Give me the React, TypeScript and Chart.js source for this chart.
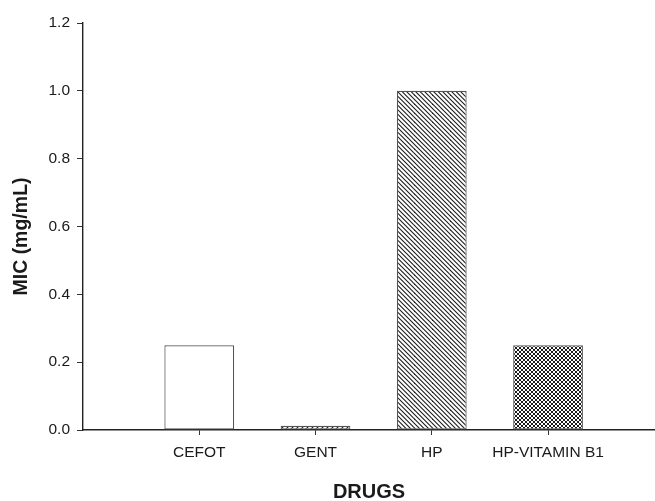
import React, { useEffect, useRef } from "react";
import { Chart, registerables } from "chart.js";

Chart.register(...registerables);

const categories = ["CEFOT", "GENT", "HP", "HP-VITAMIN B1"];
const micValues = [0.25, 0.0125, 1.0, 0.25];
const yTicks = [0, 0.2, 0.4, 0.6, 0.8, 1.0, 1.2];
const xTitle = "DRUGS";
const yTitle = "MIC (mg/mL)";

const FONT = "'Liberation Sans', Arial, sans-serif";

function makePattern(kind: string): CanvasPattern | string {
  if (kind === "white") return "#ffffff";
  const s = kind === "cross" ? 4 : kind === "slash" ? 5 : 4.5;
  const size = Math.round(s * 4);
  const c = document.createElement("canvas");
  c.width = size;
  c.height = size;
  const g = c.getContext("2d")!;
  g.fillStyle = "#ffffff";
  g.fillRect(0, 0, size, size);
  g.strokeStyle = "#1a1a1a";
  g.lineWidth = kind === "cross" ? 1.0 : 1.1;
  const step = size / 4;
  const drawBack = () => {
    for (let k = -8; k <= 12; k++) {
      g.beginPath();
      g.moveTo(k * step - size, -size);
      g.lineTo(k * step + 2 * size, 2 * size);
      g.stroke();
    }
  };
  const drawFwd = () => {
    for (let k = -8; k <= 12; k++) {
      g.beginPath();
      g.moveTo(k * step - size, 2 * size);
      g.lineTo(k * step + 2 * size, -size);
      g.stroke();
    }
  };
  if (kind === "back") drawBack();
  if (kind === "slash") drawFwd();
  if (kind === "cross") {
    drawBack();
    drawFwd();
  }
  const p = g.createPattern(c, "repeat");
  return p || "#888";
}

const fills = ["white", "slash", "back", "cross"];

const yTitlePlugin = {
  id: "yTitleCustom",
  afterDraw(chart: any) {
    const { ctx, chartArea } = chart;
    ctx.save();
    ctx.translate(22, (chartArea.top + chartArea.bottom) / 2 + 10);
    ctx.rotate(-Math.PI / 2);
    ctx.font = `bold 19.5px ${FONT}`;
    ctx.fillStyle = "#1a1a1a";
    ctx.textAlign = "center";
    ctx.textBaseline = "middle";
    ctx.fillText(yTitle, 0, 0);
    ctx.restore();
  },
};

export default function App() {
  const ref = useRef<HTMLCanvasElement | null>(null);
  useEffect(() => {
    document.body.style.margin = "0";
    const canvas = ref.current!;
    const chart = new Chart(canvas, {
      type: "bar",
      data: {
        datasets: [
          {
            label: "MIC",
            data: micValues.map((v, i) => ({ x: i + 1, y: v })),
            backgroundColor: fills.map((f) => makePattern(f)) as any,
            borderColor: "#555555",
            borderWidth: 1.2,
            borderSkipped: false,
            barPercentage: 0.6,
            categoryPercentage: 1,
          },
        ],
      },
      options: {
        animation: false,
        responsive: false,
        layout: { padding: { top: 23, right: 0, left: 0, bottom: 0 } },
        plugins: {
          legend: { display: false },
          tooltip: { enabled: false },
        },
        scales: {
          x: {
            type: "linear",
            offset: false,
            min: 0,
            max: 4.92,
            afterBuildTicks: (scale: any) => {
              scale.ticks = categories.map((_, i) => ({ value: i + 1 }));
            },
            afterFit: (scale: any) => {
              scale.height = 71;
            },
            ticks: {
              autoSkip: false,
              maxRotation: 0,
              padding: 8,
              color: "#1a1a1a",
              font: { family: FONT, size: 15.5 },
              callback: (v: any) => categories[Math.round(Number(v)) - 1] ?? "",
            },
            grid: {
              offset: false,
              drawOnChartArea: false,
              drawTicks: true,
              tickLength: 5,
              color: "#333333",
              lineWidth: 1,
            },
            border: { display: true, color: "#222222", width: 1.4 },
            title: {
              display: true,
              text: xTitle,
              color: "#1a1a1a",
              font: { family: FONT, size: 20, weight: "bold", lineHeight: 0.85 },
              padding: { top: 0, bottom: 0 },
            },
          },
          y: {
            min: 0,
            max: 1.2,
            afterBuildTicks: (scale: any) => {
              scale.ticks = yTicks.map((v) => ({ value: v }));
            },
            afterFit: (scale: any) => {
              scale.width = 83;
            },
            ticks: {
              padding: 7,
              color: "#1a1a1a",
              font: { family: FONT, size: 15.5 },
              callback: (v: any) => Number(v).toFixed(1),
            },
            grid: {
              drawOnChartArea: false,
              drawTicks: true,
              tickLength: 6,
              color: "#333333",
              lineWidth: 1,
            },
            border: { display: true, color: "#222222", width: 1.4 },
          },
        },
      },
      plugins: [yTitlePlugin],
    });
    return () => chart.destroy();
  }, []);
  return <canvas ref={ref} width={655} height={501} style={{ display: "block" }} />;
}
